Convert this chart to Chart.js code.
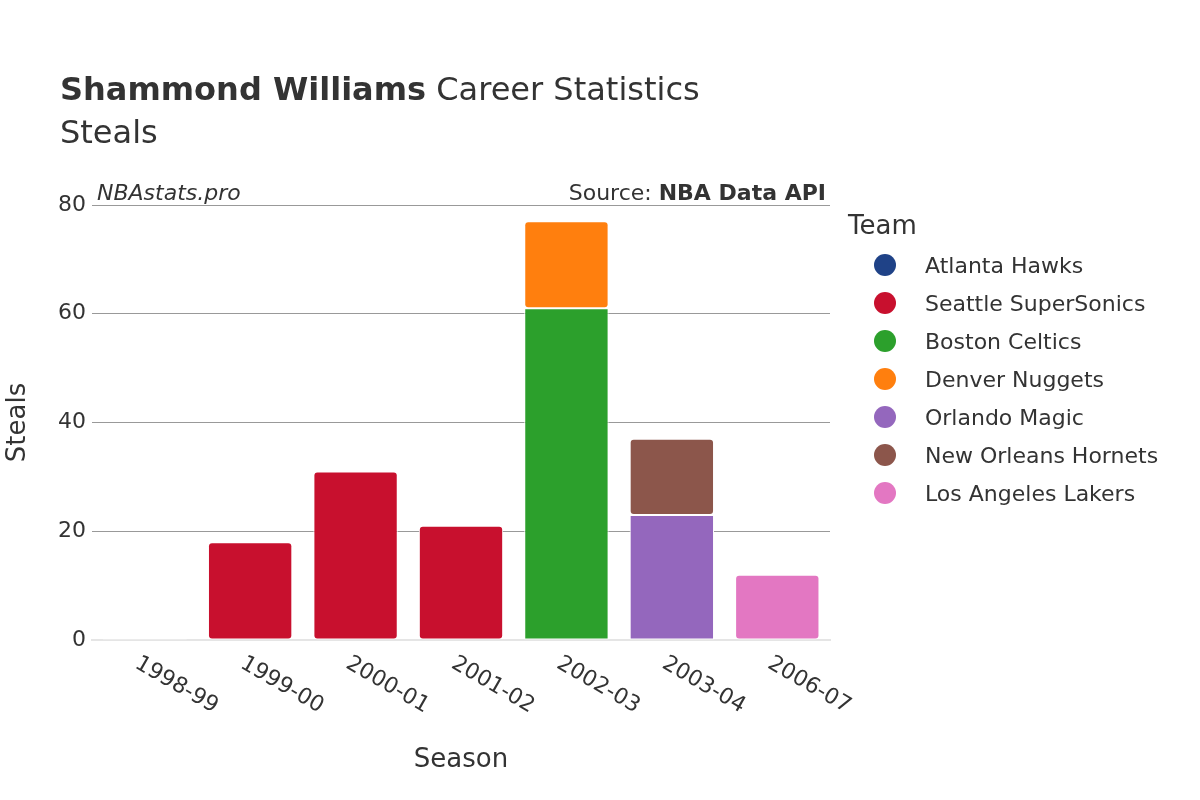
<!DOCTYPE html>
<html><head><meta charset="utf-8">
<script src="https://cdn.jsdelivr.net/npm/chart.js@4"></script>
<style>html,body{margin:0;padding:0;background:#fff}#c{width:1200px;height:800px}</style>
</head><body><div id="c"><canvas id="cv" width="1200" height="800"></canvas></div>
<script>
const seasons = ["1998-99","1999-00","2000-01","2001-02","2002-03","2003-04","2006-07"];
const teams = ["Atlanta Hawks","Seattle SuperSonics","Boston Celtics","Denver Nuggets","Orlando Magic","New Orleans Hornets","Los Angeles Lakers"];
const colors = ["#1f4287","#c8102e","#2ca02c","#ff7f0e","#9467bd","#8c564b","#e377c2"];
const atlanta = [0.3,0,0,0,0,0,0];
const seattle = [0,18,31,21,0,0,0];
const boston = [0,0,0,0,61,0,0];
const denver = [0,0,0,0,16,0,0];
const orlando = [0,0,0,0,0,23,0];
const hornets = [0,0,0,0,0,14,0];
const lakers = [0,0,0,0,0,0,12];
const yTicks = [0,20,40,60,80];
const series = [atlanta,seattle,boston,denver,orlando,hornets,lakers];
const F = "'DejaVu Sans',sans-serif";

const overlay = {
  id:'overlay',
  afterDraw(chart){
    const ctx=chart.ctx, x=chart.scales.x, ca=chart.chartArea;
    ctx.save();
    ctx.fillStyle='#333';
    ctx.textBaseline='alphabetic';
    ctx.font="bold 32px "+F; ctx.textAlign='left';
    const t1="Shammond Williams"; ctx.fillText(t1,60,100);
    const w=ctx.measureText(t1).width;
    ctx.font="32px "+F; ctx.fillText(" Career Statistics",60+w,100);
    ctx.fillText("Steals",60,143);
    ctx.font="italic 22px "+F; ctx.fillText("NBAstats.pro",97,200);
    ctx.textAlign='right';
    ctx.font="bold 22px "+F; ctx.fillText("NBA Data API",826,200);
    const bw=ctx.measureText("NBA Data API").width;
    ctx.font="22px "+F; ctx.fillText("Source: ",826-bw,200);
    ctx.font="22px "+F; ctx.textAlign='left'; ctx.textBaseline='middle';
    seasons.forEach((s,i)=>{
      const px=x.getPixelForTick(i);
      ctx.save(); ctx.translate(px-8,662); ctx.rotate(Math.PI/6); ctx.fillText(s,0,0); ctx.restore();
    });
    ctx.textAlign='center';
    ctx.font="26px "+F; ctx.fillText("Season",(ca.left+ca.right)/2,760);
    ctx.save(); ctx.translate(18,(ca.top+ca.bottom)/2); ctx.rotate(-Math.PI/2); ctx.fillText("Steals",0,0); ctx.restore();
    ctx.textAlign='left';
    ctx.font="26px "+F; ctx.fillText("Team",848,227);
    ctx.font="22px "+F;
    chart.data.datasets.forEach((d,i)=>{
      const y=267+i*38;
      ctx.fillStyle=d.backgroundColor;
      ctx.beginPath(); ctx.arc(885,y-2,11,0,Math.PI*2); ctx.fill();
      ctx.fillStyle='#333'; ctx.fillText(d.label,925,y);
    });
    ctx.restore();
  }
};

new Chart(document.getElementById('cv'),{
  type:'bar',
  data:{labels:seasons,datasets:teams.map((t,i)=>({label:t,data:series[i],backgroundColor:colors[i],borderColor:'#fff',borderWidth:1,borderRadius:4,borderSkipped:false,barPercentage:0.8,categoryPercentage:1}))},
  options:{
    responsive:false,animation:false,
    layout:{padding:{left:0,right:370,top:205,bottom:152}},
    plugins:{legend:{display:false},tooltip:{enabled:false},title:{display:false}},
    scales:{
      x:{stacked:true,grid:{display:false},border:{color:'#e5e5e5',width:2},ticks:{display:false}},
      y:{stacked:true,min:0,max:80,afterBuildTicks(s){s.ticks=yTicks.map(v=>({value:v}));},
         afterFit(s){s.width=92;},
         grid:{color:'#999',drawTicks:false},border:{display:false},
         ticks:{color:'#333',font:{size:22,family:F},padding:6}}
    }
  },
  plugins:[overlay]
});
</script></body></html>
